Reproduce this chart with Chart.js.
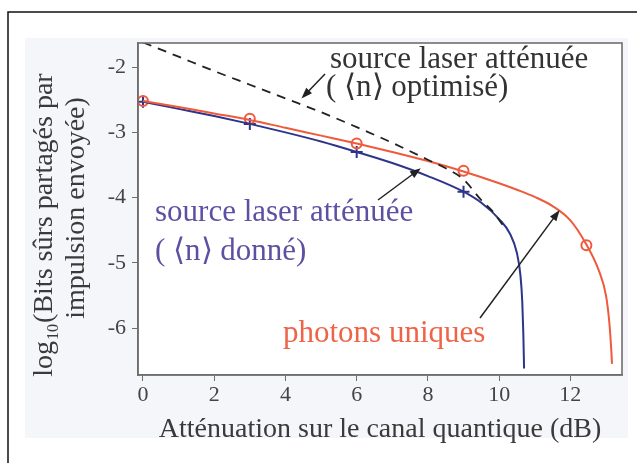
<!DOCTYPE html>
<html><head><meta charset="utf-8">
<script src="https://cdn.jsdelivr.net/npm/chart.js@4/dist/chart.umd.min.js"></script>
<style>html,body{margin:0;padding:0;background:#fff}#wrap{width:637px;height:463px;position:relative}</style>
</head><body><div id="wrap"><canvas id="c" width="637" height="463"></canvas></div>
<script>
// ---- data ----
const xTicks = [0, 2, 4, 6, 8, 10, 12];
const yTicks = [-6, -5, -4, -3, -2];
const photonX = [0, 1, 2, 3, 4, 5, 6, 7, 8, 9, 10, 10.5, 11, 11.5, 12, 12.45, 12.8, 13.0, 13.1, 13.15, 13.17];
const photonY = [-2.52, -2.61, -2.71, -2.81, -2.93, -3.05, -3.17, -3.3, -3.44, -3.6, -3.78, -3.88, -3.99, -4.13, -4.35, -4.72, -5.12, -5.5, -5.95, -6.35, -6.55];
const laserX = [0, 1, 2, 3, 4, 5, 6, 7, 8, 9, 9.5, 10, 10.3, 10.5, 10.6, 10.65, 10.68, 10.7];
const laserY = [-2.53, -2.64, -2.75, -2.87, -3.0, -3.14, -3.3, -3.47, -3.67, -3.91, -4.08, -4.33, -4.55, -4.85, -5.2, -5.6, -6.1, -6.62];
const optX = [0, 1, 2, 3, 4, 5, 6, 7, 7.5, 8, 8.5, 9, 9.5, 9.8, 10.1];
const optY = [-1.62, -1.84, -2.06, -2.27, -2.48, -2.69, -2.92, -3.16, -3.29, -3.42, -3.55, -3.72, -4.04, -4.2, -4.42];
const photonMkX = [0, 3, 6, 9, 12.45];
const photonMkY = [-2.52, -2.79, -3.17, -3.59, -4.73];
const laserMkX = [0, 3, 6, 9];
const laserMkY = [-2.53, -2.87, -3.3, -3.91];
const xTitle = "Atténuation sur le canal quantique (dB)";
const yTitle1a = "log", yTitleSub = "10", yTitle1b = "(Bits sûrs partagés par";
const yTitle2 = "impulsion envoyée)";
const labOpt = ["source laser atténuée", "( ⟨n⟩ optimisé)"];
const labLaser = ["source laser atténuée", "( ⟨n⟩ donné)"];
const labPhoton = "photons uniques";

const pts = (xs, ys) => xs.map((x, i) => ({x, y: ys[i]}));
const RED = '#ef5a3c', BLUE = '#2c358a', BLUETXT = '#5f4fa3', REDTXT = '#ee6448';
const FONT = '"Liberation Serif", "Times New Roman", serif';

const bgPlugin = {
  id: 'bg',
  beforeDraw(chart) {
    const c = chart.ctx;
    c.save();
    c.fillStyle = '#fff'; c.fillRect(0, 0, 637, 463);
    c.strokeStyle = '#111'; c.lineWidth = 1.5;
    c.strokeRect(8, 12, 700, 600);
    c.fillStyle = '#f5f6f9'; c.fillRect(25, 38, 603, 400);
    const a = chart.chartArea;
    c.fillStyle = '#fff'; c.fillRect(a.left, a.top, a.right - a.left, a.bottom - a.top);
    c.restore();
  },
  afterDraw(chart) {
    const c = chart.ctx, a = chart.chartArea, xs = chart.scales.x, ys = chart.scales.y;
    c.save();
    c.strokeStyle = '#6e6e6e'; c.lineWidth = 1.6;
    c.strokeRect(a.left, a.top, a.right - a.left, a.bottom - a.top);
    // axis titles
    c.fillStyle = '#3a3a3a';
    c.font = '28px ' + FONT;
    c.textAlign = 'center'; c.textBaseline = 'alphabetic';
    c.fillText(xTitle, 380, 437);
    // y title
    c.save();
    c.translate(52, 225); c.rotate(-Math.PI / 2);
    c.textAlign = 'left';
    const w1 = c.measureText(yTitle1a).width;
    c.font = '16px ' + FONT;
    const ws = c.measureText(yTitleSub).width;
    c.font = '28px ' + FONT;
    const w2 = c.measureText(yTitle1b).width;
    const tot = w1 + ws + 2 + w2;
    let x0 = -tot / 2;
    c.fillText(yTitle1a, x0, 0);
    c.font = '16px ' + FONT;
    c.fillText(yTitleSub, x0 + w1 + 1, 6);
    c.font = '28px ' + FONT;
    c.fillText(yTitle1b, x0 + w1 + ws + 2, 0);
    c.restore();
    c.save();
    c.translate(84, 208); c.rotate(-Math.PI / 2);
    c.textAlign = 'center';
    c.fillText(yTitle2, 0, 0);
    c.restore();
    // annotations
    const px = v => xs.getPixelForValue(v), py = v => ys.getPixelForValue(v);
    c.textAlign = 'left';
    c.font = '31px ' + FONT;
    c.fillStyle = '#333';
    c.fillText(labOpt[0], 330, 68);
    c.fillText(labOpt[1], 326, 96);
    c.fillStyle = BLUETXT;
    c.fillText(labLaser[0], 155, 221);
    c.fillText(labLaser[1], 155, 260);
    c.fillStyle = REDTXT;
    c.fillText(labPhoton, 283, 342);
    const arrow = (x1, y1, x2, y2) => {
      c.strokeStyle = '#222'; c.fillStyle = '#222'; c.lineWidth = 1.5;
      const ang = Math.atan2(y2 - y1, x2 - x1);
      c.beginPath(); c.moveTo(x1, y1);
      c.lineTo(x2 - 8 * Math.cos(ang), y2 - 8 * Math.sin(ang)); c.stroke();
      c.beginPath(); c.moveTo(x2, y2);
      c.lineTo(x2 - 11 * Math.cos(ang) + 4 * Math.sin(ang), y2 - 11 * Math.sin(ang) - 4 * Math.cos(ang));
      c.lineTo(x2 - 11 * Math.cos(ang) - 4 * Math.sin(ang), y2 - 11 * Math.sin(ang) + 4 * Math.cos(ang));
      c.closePath(); c.fill();
    };
    arrow(325, 74, px(4.45), py(-2.48));
    arrow(378, 200, px(7.8), py(-3.55));
    arrow(480, 318, px(11.7), py(-4.19));
    c.restore();
  }
};

new Chart(document.getElementById('c'), {
  type: 'scatter',
  data: {
    datasets: [
      {data: pts(optX, optY), showLine: true, borderColor: '#222', borderWidth: 1.8, borderDash: [9, 7], pointRadius: 0, cubicInterpolationMode: 'monotone', fill: false},
      {data: pts(photonX, photonY), showLine: true, borderColor: RED, borderWidth: 2, pointRadius: 0, cubicInterpolationMode: 'monotone', fill: false},
      {data: pts(laserX, laserY), showLine: true, borderColor: BLUE, borderWidth: 2, pointRadius: 0, cubicInterpolationMode: 'monotone', fill: false},
      {data: pts(photonMkX, photonMkY), showLine: false, pointStyle: 'circle', pointRadius: 5, borderColor: RED, borderWidth: 2, backgroundColor: 'rgba(255,255,255,0)'},
      {data: pts(laserMkX, laserMkY), showLine: false, pointStyle: 'cross', pointRadius: 6, borderColor: BLUE, borderWidth: 2}
    ]
  },
  options: {
    responsive: false, animation: false, events: [],
    layout: {padding: {left: 0, top: 43, right: 15, bottom: 0}},
    plugins: {legend: {display: false}, tooltip: {enabled: false}},
    scales: {
      x: {
        type: 'linear', min: -0.14, max: 13.45,
        afterBuildTicks: s => { s.ticks = xTicks.map(v => ({value: v})); },
        afterFit: s => { s.height = 88; },
        grid: {drawOnChartArea: false, drawTicks: true, tickLength: 6, tickColor: '#6e6e6e'},
        border: {display: true, color: '#6e6e6e', width: 1.6},
        ticks: {color: '#444', font: {family: FONT, size: 22}, padding: 1, maxRotation: 0}
      },
      y: {
        type: 'linear', min: -6.72, max: -1.63,
        afterBuildTicks: s => { s.ticks = yTicks.map(v => ({value: v})); },
        afterFit: s => { s.width = 138; },
        grid: {drawOnChartArea: false, drawTicks: true, tickLength: 6, tickColor: '#6e6e6e'},
        border: {display: true, color: '#6e6e6e', width: 1.6},
        ticks: {color: '#444', font: {family: FONT, size: 22}, padding: 6}
      }
    }
  },
  plugins: [bgPlugin]
});
</script></body></html>
